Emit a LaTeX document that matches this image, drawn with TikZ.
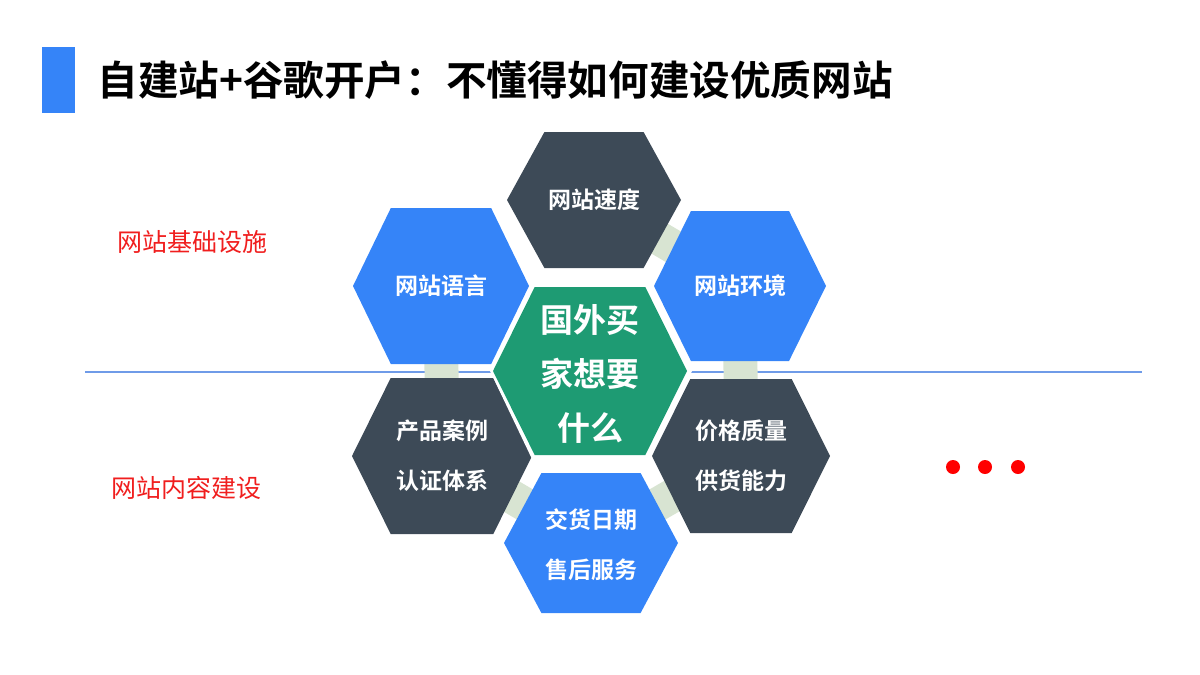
\documentclass[tikz,border=0pt]{standalone}
\usepackage{fontspec}
\newfontfamily\cjk{Noto Sans CJK SC}
\newfontfamily\cjkb{Noto Sans CJK SC Bold}
\definecolor{hblue}{HTML}{3584F8}
\definecolor{hdark}{HTML}{3D4A57}
\definecolor{hgreen}{HTML}{1E9B73}
\definecolor{hconn}{HTML}{D8E4D2}
\definecolor{hline}{HTML}{6F9BE8}
\definecolor{hred}{HTML}{F01E1E}
\newcommand{\hexpath}[5]{%
  \fill[#5] (#1-#3,#2) -- (#1-0.57*#3,#2-#4) -- (#1+0.57*#3,#2-#4) -- (#1+#3,#2) -- (#1+0.57*#3,#2+#4) -- (#1-0.57*#3,#2+#4) -- cycle;}
\begin{document}
\begin{tikzpicture}[x=0.5pt,y=-0.5pt,
  htext/.style={text=white,font=\cjkb\fontsize{11.5}{25}\selectfont,align=center},
  ctext/.style={text=white,font=\cjkb\fontsize{16.5}{27}\selectfont,align=center},
  lbl/.style={text=hred,font=\cjk\fontsize{12.5}{14}\selectfont},
  conn/.style={draw=hconn,line width=17pt}]
\useasboundingbox (0,0) rectangle (1200,675);
\coordinate (ct) at (594,200);
\coordinate (cl) at (441,286);
\coordinate (cr) at (740,286);
\coordinate (cc) at (590,371);
\coordinate (cbl) at (442,456);
\coordinate (cbr) at (741,456);
\coordinate (cb) at (591,543);
\draw[hline,line width=0.6pt] (85,372) -- (1142,372);
\draw[conn] (ct) -- (cr);
\draw[conn] (cl) -- (cbl);
\draw[conn] (cr) -- (cbr);
\draw[conn] (cbl) -- (cb);
\draw[conn] (cbr) -- (cb);
\hexpath{594}{200}{87}{68}{hdark}
\hexpath{441}{286}{88}{78}{hblue}
\hexpath{740}{286}{86}{75}{hblue}
\hexpath{442}{456}{90}{78}{hdark}
\hexpath{741}{456}{89}{77}{hdark}
\hexpath{591}{543}{87}{70}{hblue}
\fill[white] (490,371) -- (532,283) -- (648,283) -- (692,371) -- (648,459) -- (532,459) -- cycle;
\hexpath{590}{371}{97}{84}{hgreen}
\node[htext] (t) at (594,200) {网站速度};
\node[htext] (l) at (441,286) {网站语言};
\node[htext] (r) at (740,286) {网站环境};
\node[ctext] (c) at (590,374) {国外买\\家想要\\什么};
\node[htext] (bl) at (442,456) {产品案例\\认证体系};
\node[htext] (br) at (741,456) {价格质量\\供货能力};
\node[htext] (b) at (591,545) {交货日期\\售后服务};
\node[lbl] (l1) at (192,242) {网站基础设施};
\node[lbl] (l2) at (186,488) {网站内容建设};
\fill[red] (953,467) circle (7) (985,467) circle (7) (1018,467) circle (7);
\fill[hblue] (42,47) rectangle (75,113);
\node[anchor=west,font=\cjkb\fontsize{20.3}{22}\selectfont,inner sep=0pt] (title) at (97,80) {自建站+谷歌开户：不懂得如何建设优质网站};
\end{tikzpicture}
\end{document}
